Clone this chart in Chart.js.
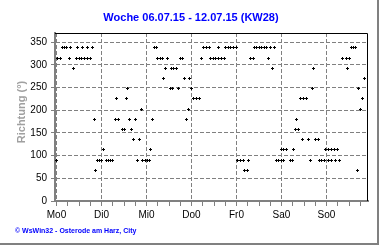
<!DOCTYPE html>
<html><head><meta charset="utf-8">
<script src="https://cdn.jsdelivr.net/npm/chart.js@4.4.1/dist/chart.umd.min.js"></script>
<style>html,body{margin:0;padding:0;background:#fff;}canvas{display:block;}</style>
</head><body>
<canvas id="c" width="380" height="245"></canvas>
<script>
const titleText = 'Woche 06.07.15 - 12.07.15 (KW28)';
const yAxisTitle = 'Richtung (°)';
const footerText = '© WsWin32 - Osterode am Harz, City';
const dayLabels = ['Mo0','Di0','Mi0','Do0','Fr0','Sa0','So0'];
const yTickValues = [0,50,100,150,200,250,300,350];
const xTickHours = [0,6,12,18,24,30,36,42,48,54,60,66,72,78,84,90,96,102,108,114,120,126,132,138,144,150,156,162];

// hours since Monday 00:00
const hours = [
  0.2,0.5,2,3,4,5.3,7,7.7,9,10.5,11.2,12,13.5,14,15,16.5,16.5,18,19.4,20.3,21,21.8,23,
  24.2,25,26.5,27.7,28.9,30,31.2,32,33,35.2,36.4,37.5,38,38.8,40.2,41,42,43,44.3,45.3,45.8,47.2,
  48.5,49.7,50.1,51,52.2,53.5,53.8,55.2,56.5,57,58,59,60.6,61.3,61.8,62.6,63.8,65,66,67,68,69.3,70.4,71,
  72,73,74.5,76,77.3,78.2,79.8,81.4,82,83.5,85,86.4,86.5,88,89.5,90,91.5,93,94.5,96,
  96.5,98,99.5,100,101.7,102.2,103.5,105,105.6,106.9,108.2,109.5,110.8,112.2,113,114.2,115.2,116.3,117.3,118.6,119.9,120,
  121.2,121.3,122.6,124.8,126,126.2,127.3,128,129,130,131.3,131.5,133.5,134.4,135.3,136.7,137,138.3,139.5,140.1,141.5,143,143.3,
  145,145.1,146.5,146.8,148.4,149,150,150.8,152.7,154.5,155.2,156.3,157.2,158.5,159.7,160.5,161,162.1,163.2,164.5
];
// wind direction in degrees
const directions = [
  90,315,315,337.5,337.5,337.5,315,337.5,292.5,315,337.5,315,315,337.5,315,315,337.5,315,337.5,180,67.5,90,90,
  90,112.5,90,90,90,90,180,225,180,157.5,157.5,225,247.5,180,157.5,135,180,90,135,202.5,90,90,
  90,90,112.5,180,337.5,337.5,315,315,315,270,292.5,315,247.5,292.5,247.5,292.5,292.5,247.5,315,315,270,180,202.5,270,
  247.5,225,225,225,315,337.5,337.5,337.5,315,315,315,337.5,315,315,315,337.5,337.5,337.5,337.5,337.5,
  90,90,90,67.5,67.5,90,315,315,337.5,337.5,337.5,337.5,337.5,337.5,315,337.5,292.5,337.5,90,90,90,112.5,
  90,112.5,112.5,90,90,112.5,157.5,180,157.5,225,135,225,225,135,90,247.5,292.5,135,135,90,90,90,112.5,
  112.5,90,90,112.5,112.5,90,112.5,90,315,315,292.5,315,337.5,337.5,337.5,67.5,247.5,202.5,225,270
];

const points = hours.map((h, i) => ({x: h, y: directions[i]}));

const marker = document.createElement('canvas');
marker.width = 3; marker.height = 3;
const mg = marker.getContext('2d');
mg.fillStyle = '#000';
mg.fillRect(1,0,1,3);
mg.fillRect(0,1,3,1);

Chart.defaults.font.family = "'Liberation Sans', Arial, sans-serif";
Chart.defaults.font.size = 10;
Chart.defaults.color = '#000';

const decor = {
  id: 'decor',
  beforeDatasetsDraw(chart) { chart.ctx.imageSmoothingEnabled = false; },
  afterDraw(chart) {
    const ctx = chart.ctx, a = chart.chartArea;
    ctx.save();
    // frame top & right
    ctx.strokeStyle = '#000'; ctx.lineWidth = 1;
    ctx.beginPath();
    ctx.moveTo(a.left, 33.5); ctx.lineTo(a.right - 0.5, 33.5); ctx.lineTo(a.right - 0.5, a.bottom);
    ctx.stroke();
    // outer panel edges
    ctx.strokeStyle = '#808080'; ctx.lineWidth = 2;
    ctx.beginPath();
    ctx.moveTo(378, 0); ctx.lineTo(378, 244); ctx.lineTo(0, 244);
    ctx.stroke();
    // title
    ctx.fillStyle = '#0000ff';
    ctx.font = "bold 11px 'Liberation Sans', Arial, sans-serif";
    ctx.textAlign = 'center'; ctx.textBaseline = 'middle';
    ctx.fillText(titleText, 191, 18);
    // y axis title
    ctx.save();
    ctx.translate(21.5, 112);
    ctx.rotate(-Math.PI/2);
    ctx.fillStyle = '#a0a0a0';
    ctx.font = "bold 11px 'Liberation Sans', Arial, sans-serif";
    ctx.fillText(yAxisTitle, 0, 0);
    ctx.restore();
    // footer
    ctx.fillStyle = '#0000ff';
    ctx.font = "bold 7px 'Liberation Sans', Arial, sans-serif";
    ctx.textAlign = 'left';
    ctx.fillText(footerText, 15, 231);
    ctx.restore();
  }
};

new Chart(document.getElementById('c'), {
  type: 'scatter',
  data: { datasets: [{ data: points, pointStyle: marker, pointRadius: 1.5, pointHoverRadius: 1.5, showLine: false }] },
  options: {
    responsive: false, animation: false,
    layout: { padding: { left: 0, top: 33, right: 12, bottom: 0 } },
    plugins: { legend: { display: false }, tooltip: { enabled: false }, title: { display: false } },
    scales: {
      x: {
        type: 'linear', min: -0.8, max: 166.13,
        afterBuildTicks: s => { s.ticks = xTickHours.map(v => ({value: v})); },
        afterFit: s => { s.height = 44; },
        ticks: {
          autoSkip: false, maxRotation: 0, padding: 3, color: '#000',
          font: { size: 10 },
          callback: v => (v % 24 === 0 ? dayLabels[v / 24] : '')
        },
        grid: {
          color: c => (c.tick && c.tick.value % 24 === 0 ? '#808080' : 'rgba(0,0,0,0)'),
          tickColor: '#808080', tickLength: 5, tickWidth: 1, lineWidth: 1, drawOnChartArea: true
        },
        border: { color: '#808080', width: 2, dash: [4, 2] }
      },
      y: {
        type: 'linear', min: 0, max: 370.5,
        afterBuildTicks: s => { s.ticks = yTickValues.map(v => ({value: v})); },
        afterFit: s => { s.width = 55; },
        ticks: { padding: 4, color: '#000', font: { size: 10 } },
        grid: {
          color: c => (c.tick && c.tick.value === 0 ? 'rgba(0,0,0,0)' : '#808080'),
          tickColor: '#808080', tickLength: 4, tickWidth: 1, lineWidth: 1
        },
        border: { color: '#808080', width: 2, dash: [4, 2] }
      }
    }
  },
  plugins: [decor]
});
</script>
</body></html>
